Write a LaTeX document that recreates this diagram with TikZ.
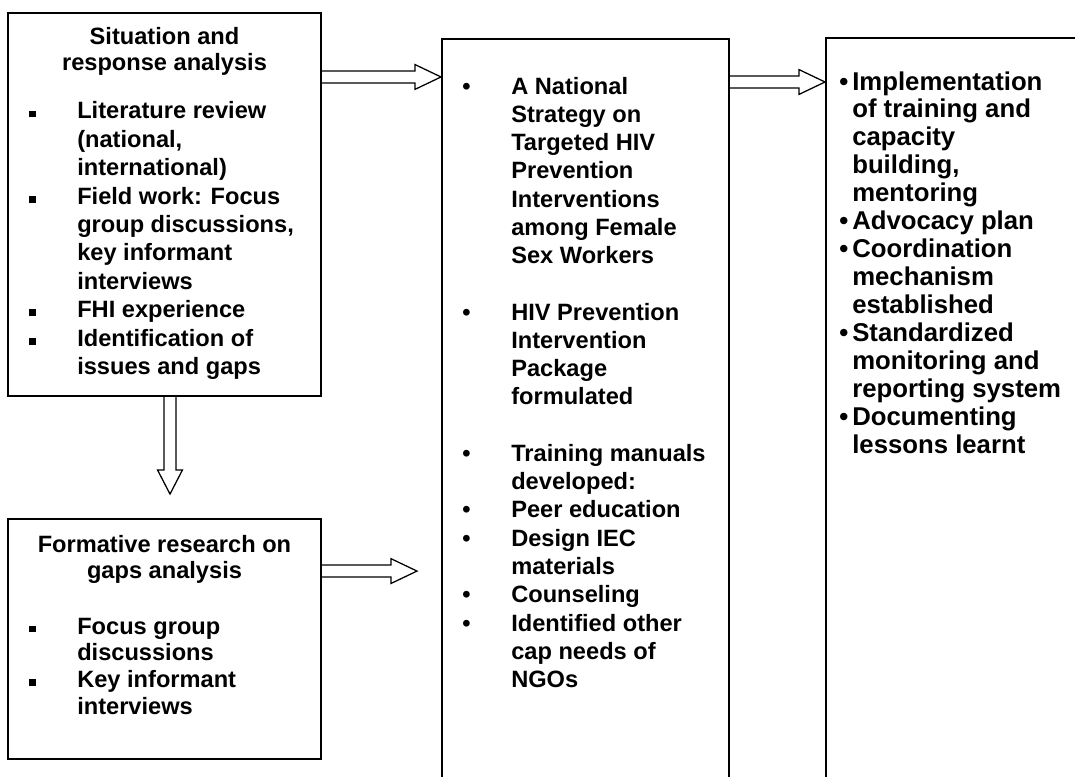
\documentclass[tikz,border=0pt]{standalone}
\usepackage{fontspec}
\setmainfont{Liberation Sans}
\usetikzlibrary{positioning,calc}

\newcommand{\sqbul}{\rule[0.04cm]{0.17cm}{0.17cm}}

\begin{document}
\begin{tikzpicture}[
    x=0.025cm, y=-0.025cm,
    box/.style={rectangle, draw, line width=1.4pt, inner sep=0pt},
    txt/.style={inner sep=0pt, font=\bfseries\fontsize{16.8}{20.2}\selectfont},
    fatR/.style={line width=0.9pt, line join=miter, to path={let \p1=(\tikztostart), \p2=(\tikztotarget) in
        (\x1,{\y1+0.15cm}) -- ({\x2-0.65cm},{\y1+0.15cm}) -- ({\x2-0.65cm},{\y1+0.31cm}) -- (\x2,\y1)
        -- ({\x2-0.65cm},{\y1-0.31cm}) -- ({\x2-0.65cm},{\y1-0.15cm}) -- (\x1,{\y1-0.15cm})}},
    fatD/.style={line width=0.9pt, line join=miter, to path={let \p1=(\tikztostart), \p2=(\tikztotarget) in
        ({\x1-0.15cm},\y1) -- ({\x1-0.15cm},{\y2+0.6cm}) -- ({\x1-0.31cm},{\y2+0.6cm}) -- (\x1,\y2)
        -- ({\x1+0.31cm},{\y2+0.6cm}) -- ({\x1+0.15cm},{\y2+0.6cm}) -- ({\x1+0.15cm},\y1)}}
]
\useasboundingbox (0,0) rectangle (1075,776);
\clip (0,0) rectangle (1075,776);

% Boxes
\node[box, minimum width=7.825cm, minimum height=9.575cm] (sit) at (164.5,204.5) {};
\node[box, below=3.025cm of sit, minimum width=7.825cm, minimum height=6cm] (form) {};
\node[box, anchor=north west, minimum width=7.175cm, minimum height=19.5cm] (strat) at (441,38) {};
\node[box, anchor=north west, minimum width=7cm, minimum height=19.5cm] (impl) at (825,37) {};

% Situation and response analysis
\node[txt, anchor=base] (sittitle) at ($(sit.north)+(0,33)$)
    {\fontsize{16.8}{18.5}\selectfont\begin{tabular}[t]{@{}c@{}}Situation and\\response analysis\end{tabular}};
\node[txt, anchor=base west] (sitlist) at ($(sit.north west)+(22,107)$)
    {\begin{tabular}[t]{@{}p{1.2cm}@{}l@{}}
    \sqbul & Literature review\\
     & (national,\\
     & international)\\
    \sqbul & Field work: Focus\\
     & group discussions,\\
     & key informant\\
     & interviews\\
    \sqbul & FHI experience\\
    \sqbul & Identification of\\
     & issues and gaps
    \end{tabular}};

% Formative research
\node[txt, anchor=base] (formtitle) at ($(form.north)+(0,34.7)$)
    {\fontsize{16.8}{18.2}\selectfont\begin{tabular}[t]{@{}c@{}}Formative research on\\gaps analysis\end{tabular}};
\node[txt, anchor=base west] (formlist) at ($(form.north west)+(22,116)$)
    {\fontsize{16.8}{19}\selectfont\begin{tabular}[t]{@{}p{1.2cm}@{}l@{}}
    \sqbul & Focus group\\
     & discussions\\
    \sqbul & Key informant\\
     & interviews
    \end{tabular}};

% National strategy
\node[txt, anchor=base west] (stratlist) at ($(strat.north west)+(21,56)$)
    {\fontsize{16.8}{20.1}\selectfont\begin{tabular}[t]{@{}p{1.225cm}@{}l@{}}
    \textbullet & A National\\
     & Strategy on\\
     & Targeted HIV\\
     & Prevention\\
     & Interventions\\
     & among Female\\
     & Sex Workers\\
     & \\
    \textbullet & HIV Prevention\\
     & Intervention\\
     & Package\\
     & formulated\\
     & \\
    \textbullet & Training manuals\\
     & developed:\\
    \textbullet & Peer education\\
    \textbullet & Design IEC\\
     & materials\\
    \textbullet & Counseling\\
    \textbullet & Identified other\\
     & cap needs of\\
     & NGOs
    \end{tabular}};

% Implementation
\node[txt, anchor=base west] (impllist) at ($(impl.north west)+(14,53)$)
    {\fontsize{18.3}{19.9}\selectfont\begin{tabular}[t]{@{}p{0.325cm}@{}l@{}}
    \textbullet & Implementation\\
     & of training and\\
     & capacity\\
     & building,\\
     & mentoring\\
    \textbullet & Advocacy plan\\
    \textbullet & Coordination\\
     & mechanism\\
     & established\\
    \textbullet & Standardized\\
     & monitoring and\\
     & reporting system\\
    \textbullet & Documenting\\
     & lessons learnt
    \end{tabular}};

% Block arrows
\coordinate (a1) at ($(sit.north east)+(0,65)$);
\draw[fatR] (a1) to (a1 -| strat.west);
\coordinate (a2) at ($(strat.north east)+(0,44)$);
\draw[fatR] (a2) to (a2 -| impl.west);
\coordinate (a3) at ($(sit.south)+(5.5,0)$);
\draw[fatD] (a3) to ($(a3 |- form.north)+(0,-24)$);
\coordinate (a4) at ($(form.north east)+(0,53)$);
\draw[fatR] (a4) to ($(a4 -| strat.west)+(-24,0)$);

\end{tikzpicture}
\end{document}
